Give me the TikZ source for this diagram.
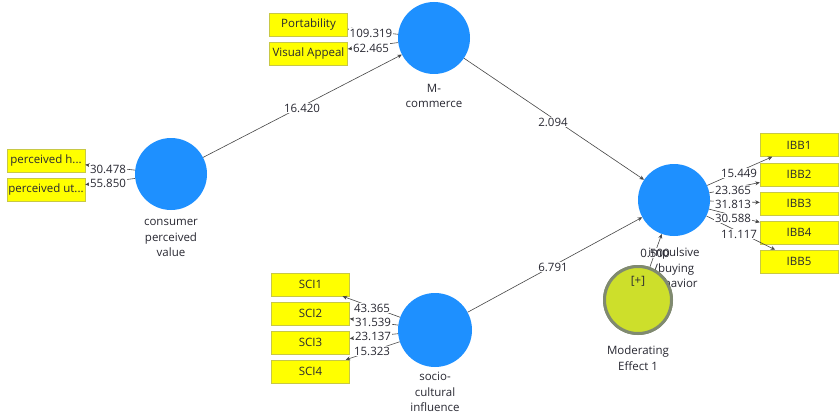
\documentclass[tikz,border=0pt]{standalone}
\usepackage{fontspec}
\setmainfont{Open Sans}
\usetikzlibrary{arrows.meta}
\definecolor{lv}{RGB}{30,144,255}
\definecolor{ind}{RGB}{255,255,0}
\definecolor{indb}{RGB}{200,200,70}
\definecolor{modf}{RGB}{205,223,43}
\definecolor{modb}{RGB}{128,138,112}
\definecolor{txt}{RGB}{40,40,50}
\definecolor{edgec}{RGB}{70,70,70}
\begin{document}
\begin{tikzpicture}[x=1pt,y=-1pt, font=\fontsize{11.5}{15.5}\selectfont,
 lvnode/.style={circle, fill=lv, minimum size=72pt, inner sep=0pt},
 indbox/.style={rectangle, fill=ind, draw=indb, line width=0.5pt, minimum width=78pt, minimum height=23pt, inner sep=0pt, text=txt},
 pathc/.style={draw=edgec, line width=0.6pt, -{Stealth[length=4.5pt,width=4pt]}},
 lbl/.style={fill=white, inner sep=0.6pt, text=txt},
 capt/.style={align=center, text=txt, inner sep=0pt}]
\fill[white] (0,0) rectangle (840,417);
\useasboundingbox (0,0) rectangle (840,417);

% latent variables
\node[lvnode] (cpv) at (171,174) {};
\node[lvnode] (mc) at (434,38) {};
\node[lvnode] (ibb) at (674,200) {};
\node[lvnode, minimum size=74pt] (sci) at (435,330) {};

% indicators
\node[indbox] (ph) at (46,160.5) {perceived h...};
\node[indbox] (pu) at (46,189.5) {perceived ut...};
\node[indbox] (port) at (308.5,25) {Portability};
\node[indbox] (va) at (308.5,54) {Visual Appeal};
\node[indbox] (i1) at (799,145) {IBB1};
\node[indbox] (i2) at (799,174.5) {IBB2};
\node[indbox] (i3) at (799,203.5) {IBB3};
\node[indbox] (i4) at (799,232.5) {IBB4};
\node[indbox] (i5) at (799,261.5) {IBB5};
\node[indbox] (s1) at (310.5,284.5) {SCI1};
\node[indbox] (s2) at (310.5,313.5) {SCI2};
\node[indbox] (s3) at (310.5,342.5) {SCI3};
\node[indbox] (s4) at (310.5,371.5) {SCI4};

% moderating effect node
\node[circle, fill=modf, draw=modb, line width=3pt, minimum size=67pt, inner sep=0pt] (mod) at (638,300) {};

% structural paths
\draw[pathc] (cpv) -- (mc);
\draw[pathc] (mc) -- (ibb);
\draw[pathc] (sci) -- (ibb);
\draw[pathc] (mod) -- (ibb);

% measurement paths
\foreach \a/\b in {cpv/ph, cpv/pu, mc/port, mc/va, ibb/i1, ibb/i2, ibb/i3, ibb/i4, ibb/i5, sci/s1, sci/s2, sci/s3, sci/s4}
  \draw[pathc] (\a) -- (\b);

% path labels
\node[lbl] (l1) at (108,169) {30.478};
\node[lbl] (l2) at (108,183) {55.850};
\node[lbl] (l3) at (371,33) {109.319};
\node[lbl] (l4) at (371,48) {62.465};
\node[lbl] (l5) at (739,173) {15.449};
\node[lbl] (l6) at (733,190) {23.365};
\node[lbl] (l7) at (733,204) {31.813};
\node[lbl] (l8) at (733,218) {30.588};
\node[lbl] (l9) at (739,234) {11.117};
\node[lbl] (l10) at (372,308) {43.365};
\node[lbl] (l11) at (373,322) {31.539};
\node[lbl] (l12) at (373,336) {23.137};
\node[lbl] (l13) at (372,351) {15.323};
\node[lbl] (l14) at (302,108) {16.420};
\node[lbl] (l15) at (553,122) {2.094};
\node[lbl] (l16) at (553,267) {6.791};
\node[lbl] (l17) at (655,253) {0.500};

% captions
\node[capt] (ccpv) at (171,238) {consumer\\perceived\\value};
\node[capt] (cmc) at (434,96) {M-\\commerce};
\node[capt] (cibb) at (674,268) {impulsive\\/buying\\behavior};
\node[capt] (csci) at (435,392) {socio-\\cultural\\influence};

% moderating effect redrawn on top of caption
\node[circle, fill=modf, draw=modb, line width=3pt, minimum size=67pt, inner sep=0pt] (mod2) at (638,300) {};
\node[text=txt] (plus) at (638,281) {[+]};
\node[capt] (cmod) at (638,358) {Moderating\\Effect 1};
\end{tikzpicture}
\end{document}
